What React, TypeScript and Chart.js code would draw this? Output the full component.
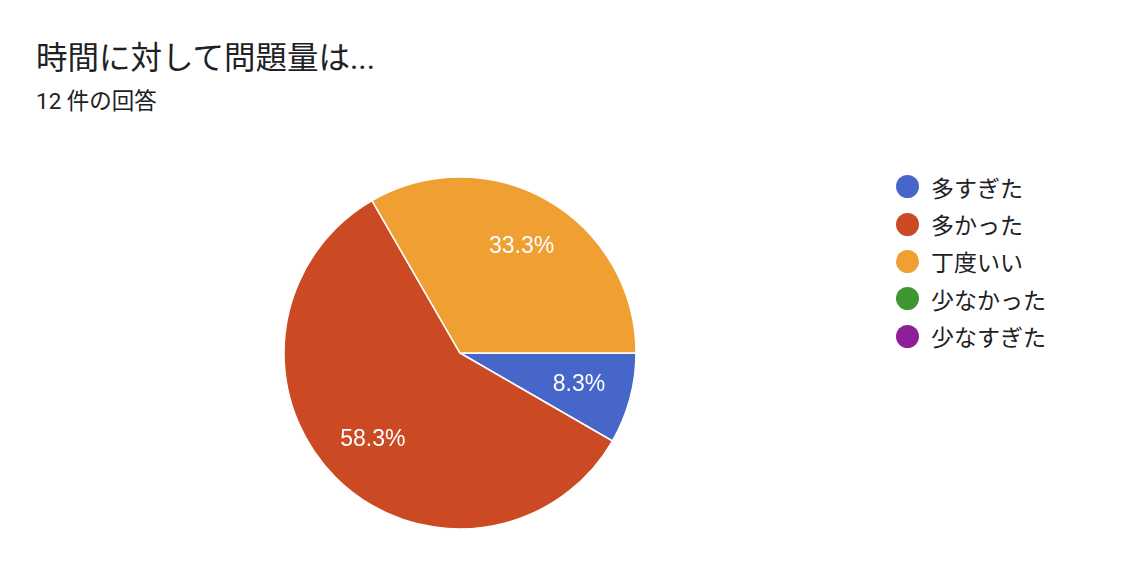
import { useEffect, useRef } from 'react';
import Chart from 'chart.js/auto';

const TITLE = '時間に対して問題量は...';
const SUBTITLE = '12 件の回答';
const CATEGORIES = ['多すぎた', '多かった', '丁度いい', '少なかった', '少なすぎた'];
const COUNTS = [1, 7, 4, 0, 0];
const COLORS = ['#4666C9', '#CB4A23', '#F0A033', '#3E9532', '#8F1F98'];

const FONT = "Roboto, 'Noto Sans CJK JP', sans-serif";

const pctLabels = {
  id: 'pctLabels',
  afterDatasetsDraw(chart: any) {
    const meta = chart.getDatasetMeta(0);
    const data = chart.data.datasets[0].data as number[];
    const total = data.reduce((a, b) => a + b, 0);
    const ctx = chart.ctx;
    ctx.save();
    ctx.fillStyle = '#ffffff';
    ctx.font = "23px 'Liberation Sans', Arial, sans-serif";
    ctx.textAlign = 'center';
    ctx.textBaseline = 'middle';
    meta.data.forEach((arc: any, i: number) => {
      if (!data[i]) return;
      const { x, y, startAngle, endAngle, outerRadius } = arc.getProps(
        ['x', 'y', 'startAngle', 'endAngle', 'outerRadius'],
        true
      );
      const mid = (startAngle + endAngle) / 2;
      const r = outerRadius * 0.7;
      const pct = ((data[i] / total) * 100).toFixed(1) + '%';
      ctx.fillText(pct, x + Math.cos(mid) * r, y + Math.sin(mid) * r);
    });
    ctx.restore();
  }
};

export default function App() {
  const canvasRef = useRef<HTMLCanvasElement | null>(null);

  useEffect(() => {
    let chart: Chart | null = null;
    if (canvasRef.current) {
      chart = new Chart(canvasRef.current, {
        type: 'pie',
        data: {
          labels: CATEGORIES,
          datasets: [
            {
              data: COUNTS,
              backgroundColor: COLORS,
              borderColor: '#ffffff',
              borderWidth: 1.5
            }
          ]
        },
        options: {
          animation: false,
          responsive: false,
          rotation: 90,
          radius: 176,
          layout: { padding: 0 },
          plugins: {
            legend: { display: false },
            tooltip: { enabled: false }
          }
        },
        plugins: [pctLabels]
      });
    }
    return () => {
      if (chart) chart.destroy();
    };
  }, []);

  return (
    <div
      style={{
        position: 'fixed',
        left: 0,
        top: 0,
        width: 1130,
        height: 582,
        background: '#ffffff',
        fontFamily: FONT,
        color: '#202124'
      }}
    >
      <div style={{ position: 'absolute', left: 36, top: 39, fontSize: 31.5, lineHeight: '40px', whiteSpace: 'nowrap' }}>
        {TITLE}
      </div>
      <div style={{ position: 'absolute', left: 36, top: 86, fontSize: 22.5, lineHeight: '30px', whiteSpace: 'nowrap' }}>
        {SUBTITLE}
      </div>
      <canvas
        ref={canvasRef}
        width={360}
        height={360}
        style={{ position: 'absolute', left: 280, top: 173, width: 360, height: 360 }}
      />
      <div style={{ position: 'absolute', left: 896, top: 168 }}>
        {CATEGORIES.map((c, i) => (
          <div key={c} style={{ display: 'flex', alignItems: 'center', height: 37.4 }}>
            <span
              style={{
                width: 23,
                height: 23,
                borderRadius: '50%',
                background: COLORS[i],
                marginRight: 12,
                flex: 'none'
              }}
            />
            <span style={{ fontSize: 23, whiteSpace: 'nowrap' }}>{c}</span>
          </div>
        ))}
      </div>
    </div>
  );
}
